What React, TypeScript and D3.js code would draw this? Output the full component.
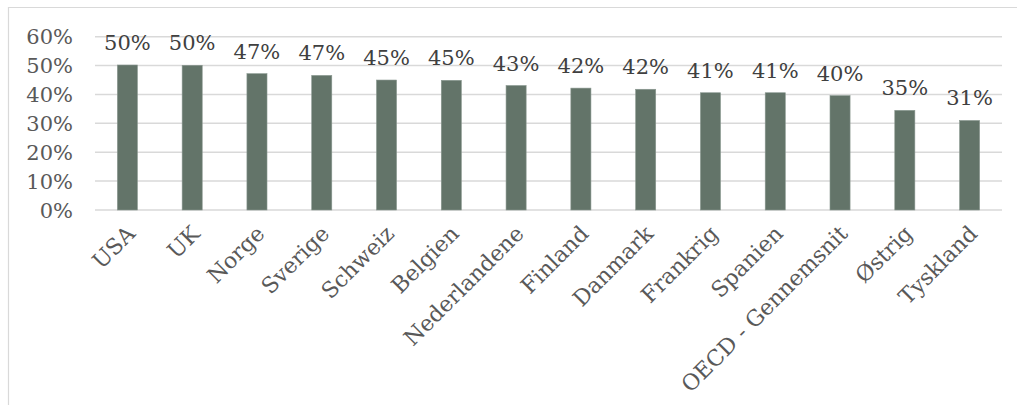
import { useEffect, useRef } from 'react';
import * as d3 from 'd3';

const COUNTRIES = [
  'USA', 'UK', 'Norge', 'Sverige', 'Schweiz', 'Belgien', 'Nederlandene',
  'Finland', 'Danmark', 'Frankrig', 'Spanien', 'OECD - Gennemsnit', 'Østrig', 'Tyskland',
];
const SHARES = [50.2, 50.1, 47.2, 46.6, 45.0, 44.9, 43.1, 42.2, 41.8, 40.6, 40.6, 39.6, 34.5, 31.0];
const Y_TICKS = [0, 10, 20, 30, 40, 50, 60];

const WIDTH = 1017;
const HEIGHT = 405;
const FONT = "'DejaVu Serif', Georgia, serif";

export default function App() {
  const svgRef = useRef<SVGSVGElement>(null);

  useEffect(() => {
    if (!svgRef.current) return;
    const svg = d3.select(svgRef.current);
    svg.selectAll('*').remove();

    const left = 95;
    const right = 1002;
    const top = 36.7;
    const bottom = 210;

    const x = d3.scaleBand<string>().domain(COUNTRIES).range([left, right]).paddingInner(0.69).paddingOuter(0.345);
    const y = d3.scaleLinear().domain([0, 60]).range([bottom, top]);

    // chart frame
    svg.append('path')
      .attr('d', `M8.5,${HEIGHT} V7.5 H${WIDTH}`)
      .attr('fill', 'none').attr('stroke', '#d9d9d9').attr('stroke-width', 1.2);

    svg.append('g').selectAll('line').data(Y_TICKS).join('line')
      .attr('x1', left).attr('x2', right)
      .attr('y1', d => y(d)).attr('y2', d => y(d))
      .attr('stroke', '#d9d9d9').attr('stroke-width', 1.5);

    svg.append('g').selectAll('text').data(Y_TICKS).join('text')
      .attr('x', 73).attr('y', d => y(d)).attr('dy', '0.36em')
      .attr('text-anchor', 'end')
      .attr('font-family', FONT).attr('font-size', 21).attr('fill', '#595959')
      .text(d => `${d}%`);

    const data = COUNTRIES.map((c, i) => ({ c, v: SHARES[i] }));

    svg.append('g').selectAll('rect').data(data).join('rect')
      .attr('x', d => x(d.c)!).attr('width', x.bandwidth())
      .attr('y', d => y(d.v)).attr('height', d => bottom - y(d.v))
      .attr('fill', '#637469').attr('stroke', '#8a9890').attr('stroke-width', 0.6);

    svg.append('g').selectAll('text').data(data).join('text')
      .attr('x', d => x(d.c)! + x.bandwidth() / 2).attr('y', d => y(d.v) - 15)
      .attr('text-anchor', 'middle')
      .attr('font-family', FONT).attr('font-size', 21).attr('fill', '#404040')
      .text(d => `${Math.round(d.v)}%`);

    svg.append('g').selectAll('text').data(COUNTRIES).join('text')
      .attr('transform', d => `translate(${x(d)! + x.bandwidth() / 2 + 9},${bottom + 25}) rotate(-45)`)
      .attr('text-anchor', 'end')
      .attr('font-family', FONT).attr('font-size', 22).attr('fill', '#595959')
      .text(d => d);
  }, []);

  return (
    <svg
      ref={svgRef}
      width={WIDTH}
      height={HEIGHT}
      style={{ position: 'fixed', top: 0, left: 0, background: '#ffffff' }}
    />
  );
}
